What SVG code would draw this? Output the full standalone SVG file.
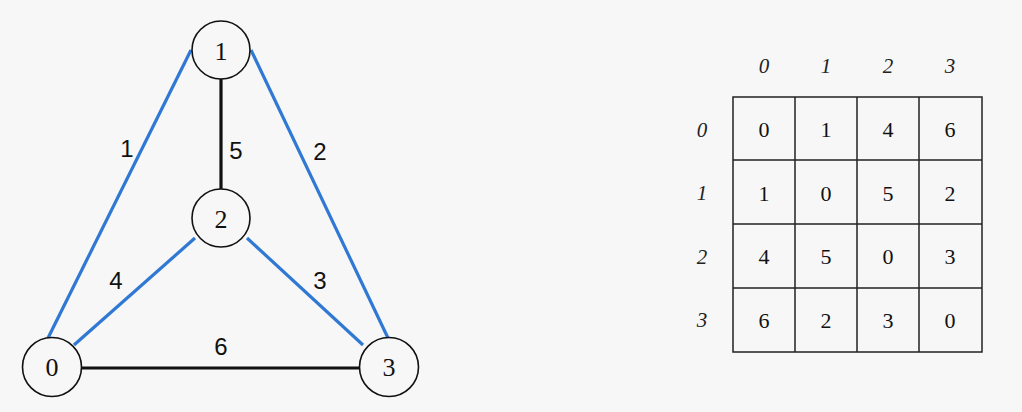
<svg xmlns="http://www.w3.org/2000/svg" width="1022" height="412" viewBox="0 0 1022 412">
<style>
.bg{fill:#f7f7f7}
.node circle{fill:#f7f7f7;stroke:#111;stroke-width:1.6}
.node text{font-family:"Liberation Serif",serif;font-size:26px;fill:#111;text-anchor:middle;dominant-baseline:central}
.blue{stroke:#2f78d4;stroke-width:3.2;fill:none}
.black{stroke:#111;stroke-width:3.2;fill:none}
.elabel{font-family:"Liberation Sans",Arial,sans-serif;font-size:24px;fill:#111;text-anchor:middle;dominant-baseline:central}
.grid{stroke:#222;stroke-width:1.5;fill:none}
.cell{font-family:"Liberation Serif",serif;font-size:22px;fill:#111;text-anchor:middle;dominant-baseline:central}
.hdr{font-family:"Liberation Serif",serif;font-size:21px;font-style:italic;fill:#222;text-anchor:middle;dominant-baseline:central}
</style>
<rect class="bg" x="0" y="0" width="1022" height="412"/>
<g id="connectors">
<line class="blue" x1="191" y1="50" x2="48" y2="338"/>
<line class="blue" x1="251" y1="50" x2="388" y2="338"/>
<line class="blue" x1="195" y1="238" x2="74" y2="345"/>
<line class="blue" x1="247" y1="238" x2="363" y2="345"/>
<line class="black" x1="221" y1="79" x2="221" y2="189"/>
<line class="black" x1="82" y1="368" x2="359" y2="368"/>
<text class="elabel" x="127" y="148">1</text>
<text class="elabel" x="236" y="150">5</text>
<text class="elabel" x="320" y="151">2</text>
<text class="elabel" x="116" y="280">4</text>
<text class="elabel" x="320" y="280">3</text>
<text class="elabel" x="221" y="346">6</text>
</g>
<g id="node1" class="node"><circle cx="221" cy="50" r="29"/><text x="221" y="51">1</text></g>
<g id="node2" class="node"><circle cx="221" cy="218" r="29"/><text x="221" y="219">2</text></g>
<g id="node0" class="node"><circle cx="52" cy="367" r="29.5"/><text x="52" y="367">0</text></g>
<g id="node3" class="node"><circle cx="389" cy="367" r="29.5"/><text x="389" y="367">3</text></g>
<g id="matrix">
<rect class="grid" x="733" y="97" width="249" height="255"/>
<line class="grid" x1="795" y1="97" x2="795" y2="352"/>
<line class="grid" x1="857" y1="97" x2="857" y2="352"/>
<line class="grid" x1="919" y1="97" x2="919" y2="352"/>
<line class="grid" x1="733" y1="160" x2="982" y2="160"/>
<line class="grid" x1="733" y1="224" x2="982" y2="224"/>
<line class="grid" x1="733" y1="288" x2="982" y2="288"/>
<text class="hdr" x="764" y="66">0</text>
<text class="hdr" x="826" y="66">1</text>
<text class="hdr" x="888" y="66">2</text>
<text class="hdr" x="950" y="66">3</text>
<text class="hdr" x="702" y="130">0</text>
<text class="hdr" x="702" y="193">1</text>
<text class="hdr" x="702" y="257">2</text>
<text class="hdr" x="702" y="320">3</text>
<text class="cell" x="764" y="129">0</text><text class="cell" x="826" y="129">1</text><text class="cell" x="888" y="129">4</text><text class="cell" x="950" y="129">6</text>
<text class="cell" x="764" y="193">1</text><text class="cell" x="826" y="193">0</text><text class="cell" x="888" y="193">5</text><text class="cell" x="950" y="193">2</text>
<text class="cell" x="764" y="256">4</text><text class="cell" x="826" y="256">5</text><text class="cell" x="888" y="256">0</text><text class="cell" x="950" y="256">3</text>
<text class="cell" x="764" y="320">6</text><text class="cell" x="826" y="320">2</text><text class="cell" x="888" y="320">3</text><text class="cell" x="950" y="320">0</text>
</g>
</svg>
